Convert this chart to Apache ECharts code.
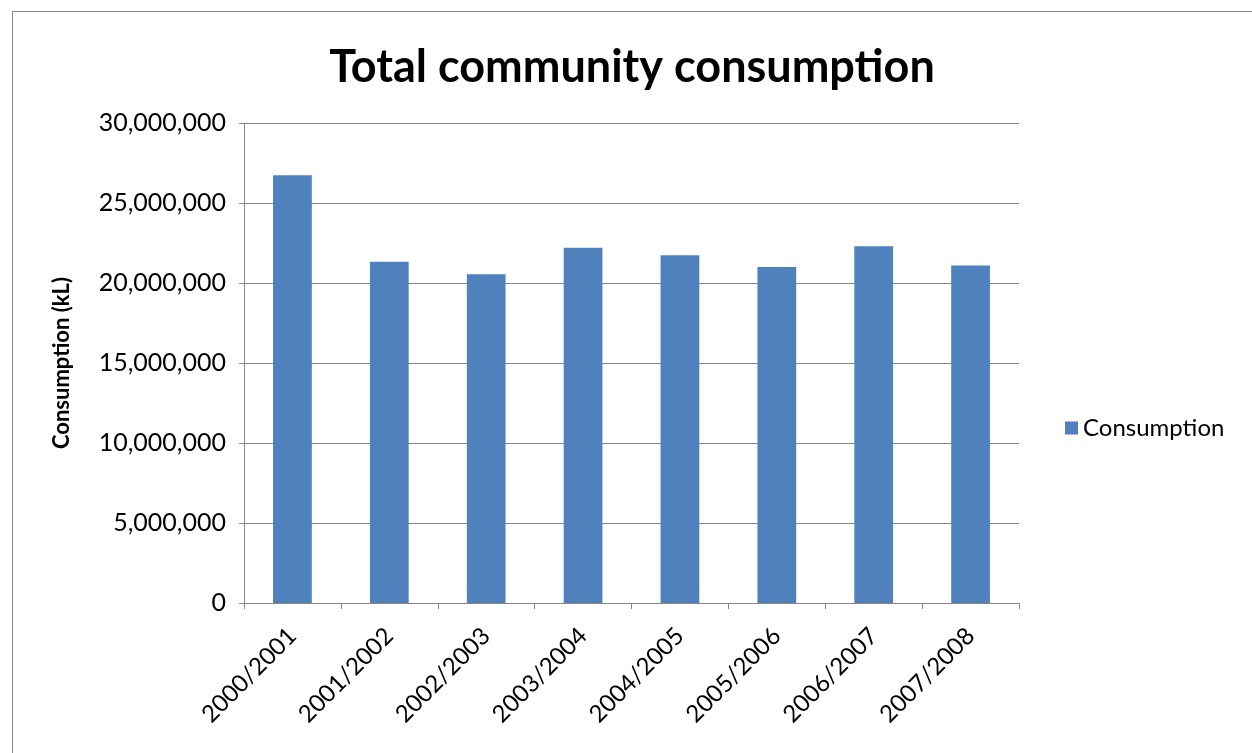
<!DOCTYPE html>
<html><head><meta charset="utf-8">
<script src="https://cdn.jsdelivr.net/npm/echarts@6/dist/echarts.min.js"></script>
<style>html,body{margin:0;padding:0;background:#fff}#c{width:1252px;height:753px}
#frame{position:absolute;left:12px;top:11px;width:1260px;height:760px;border:1.5px solid #868686;pointer-events:none}</style>
</head><body><div id="c"></div><div id="frame"></div>
<script>
const categories = ['2000/2001','2001/2002','2002/2003','2003/2004','2004/2005','2005/2006','2006/2007','2007/2008'];
const consumption = [26730000, 21330000, 20540000, 22210000, 21730000, 21000000, 22290000, 21100000];
const yTicks = {min: 0, max: 30000000, interval: 5000000};
const font = 'Lato, "Open Sans", sans-serif';
const chart = echarts.init(document.getElementById('c'));
chart.setOption({
  animation: false,
  title: {text: 'Total community consumption', left: 627, top: 40, textAlign: 'center',
    textStyle: {fontFamily: font, fontSize: 45, fontWeight: 'bold', color: '#000'}},
  grid: {left: 244, right: 233, top: 123, bottom: 150, containLabel: false},
  legend: {data: ['Consumption'], left: 1060, top: 411, orient: 'vertical', itemWidth: 13, itemHeight: 13,
    itemGap: 8, icon: 'rect', textStyle: {fontFamily: font, fontSize: 24, color: '#000'}},
  xAxis: {type: 'category', data: categories,
    axisLine: {lineStyle: {color: '#868686', width: 1}},
    axisTick: {show: true, length: 6, alignWithLabel: false, lineStyle: {color: '#868686'}},
    axisLabel: {rotate: 45, fontFamily: font, fontSize: 24, color: '#000', margin: 29, interval: 0}},
  yAxis: {type: 'value', min: yTicks.min, max: yTicks.max, interval: yTicks.interval,
    name: 'Consumption (kL)', nameLocation: 'middle', nameGap: 171,
    nameTextStyle: {fontFamily: font, fontSize: 22, fontWeight: 'bold', color: '#000'},
    axisLine: {show: true, lineStyle: {color: '#868686'}},
    axisTick: {show: true, length: 5, lineStyle: {color: '#868686'}},
    splitLine: {lineStyle: {color: '#868686', width: 1}},
    axisLabel: {fontFamily: font, fontSize: 25, color: '#000', margin: 18,
      formatter: v => v.toLocaleString('en-US')}},
  series: [{name: 'Consumption', type: 'bar', data: consumption, barCategoryGap: '60%',
    itemStyle: {color: '#4F81BD'}}]
});
</script></body></html>
